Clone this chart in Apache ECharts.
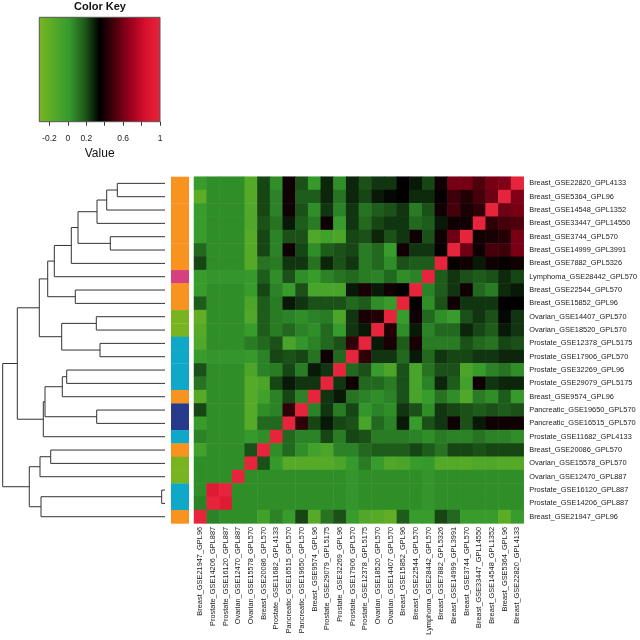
<!DOCTYPE html>
<html><head><meta charset="utf-8">
<script src="https://cdn.jsdelivr.net/npm/echarts@6/dist/echarts.min.js"></script>
<style>html,body{margin:0;padding:0;background:#fff}#c{width:640px;height:640px}</style>
</head><body><div id="c"></div>
<script>
// ---- data ----
const rowLabels = [
 'Breast_GSE22820_GPL4133','Breast_GSE5364_GPL96','Breast_GSE14548_GPL1352','Breast_GSE33447_GPL14550',
 'Breast_GSE3744_GPL570','Breast_GSE14999_GPL3991','Breast_GSE7882_GPL5326','Lymphoma_GSE28442_GPL570',
 'Breast_GSE22544_GPL570','Breast_GSE15852_GPL96','Ovarian_GSE14407_GPL570','Ovarian_GSE18520_GPL570',
 'Prostate_GSE12378_GPL5175','Prostate_GSE17906_GPL570','Prostate_GSE32269_GPL96','Prostate_GSE29079_GPL5175',
 'Breast_GSE9574_GPL96','Pancreatic_GSE19650_GPL570','Pancreatic_GSE16515_GPL570','Prostate_GSE11682_GPL4133',
 'Breast_GSE20086_GPL570','Ovarian_GSE15578_GPL570','Ovarian_GSE12470_GPL887','Prostate_GSE16120_GPL887',
 'Prostate_GSE14206_GPL887','Breast_GSE21947_GPL96'
];
const colLabels = rowLabels.slice().reverse();
const tissueColors = {Breast:'#f7931e', Lymphoma:'#d6407f', Ovarian:'#78b41f', Prostate:'#10a8c8', Pancreatic:'#283a8b'};

// Correlation values: row r, columns 0 .. 24-r (left of the red diagonal).
// The matrix is a symmetric correlation matrix, the right part mirrors these cells.
const corrTri = [
 [0.0,0.05,0.05,0.05,-0.14,0.22,0.05,0.38,0.2,0.02,0.28,0.05,0.28,0.2,0.25,0.25,0.35,0.3,0.22,0.38,0.6,0.6,0.52,0.6,0.62],
 [-0.18,0.05,0.05,0.05,-0.14,0.22,0.08,0.38,0.18,0.18,0.28,0.12,0.28,0.22,0.3,0.33,0.35,0.27,0.27,0.36,0.48,0.42,0.5,0.58],
 [0.0,0.05,0.05,0.05,-0.12,0.22,0.08,0.38,0.2,0.05,0.25,0.08,0.25,0.12,0.18,0.2,0.25,0.1,0.2,0.38,0.5,0.4,0.45],
 [0.0,0.05,0.05,0.05,-0.12,0.2,0.12,0.3,0.18,0.1,0.38,0.0,0.25,0.15,0.22,0.25,0.25,0.15,0.18,0.3,0.38,0.38],
 [0.0,0.05,0.05,0.05,-0.15,0.22,0.08,0.2,0.2,-0.12,-0.05,-0.1,0.22,0.2,0.28,0.2,0.25,0.38,0.2,0.38,0.58],
 [0.15,0.05,0.05,0.05,-0.14,0.22,0.08,0.38,0.22,0.05,0.18,0.2,0.22,0.1,0.15,0.0,0.38,0.25,0.25,0.36],
 [0.22,0.05,0.05,0.05,-0.14,0.12,0.1,0.25,0.25,0.12,0.28,0.2,0.25,0.1,0.15,0.05,0.2,0.18,0.18],
 [0.0,0.03,0.03,0.03,0.02,0.18,0.05,0.2,0.05,0.0,0.08,0.12,0.15,0.1,0.08,0.15,0.05,0.08],
 [0.0,0.05,0.05,0.05,0.0,0.22,0.08,0.0,0.2,-0.08,-0.08,-0.08,0.3,0.4,0.3,0.38,0.35],
 [0.18,0.05,0.05,0.05,-0.1,0.18,0.1,0.3,0.25,0.2,0.2,0.2,0.15,0.18,0.05,0.0],
 [-0.2,0.05,0.05,0.05,-0.12,0.18,0.1,0.08,0.05,0.08,0.1,-0.1,0.25,0.4,0.42],
 [-0.15,0.05,0.05,0.05,0.0,0.18,0.1,0.15,0.08,0.05,0.15,0.0,0.25,0.3],
 [-0.12,0.05,0.05,0.05,0.1,0.15,0.2,-0.08,0.03,0.08,0.15,0.2,0.45],
 [0.0,0.03,0.03,0.03,0.02,0.08,0.22,0.2,0.22,0.12,0.38,0.15],
 [0.2,0.05,0.05,0.05,-0.1,0.08,0.1,0.22,0.1,0.3,0.25],
 [0.12,0.05,0.05,0.05,-0.15,-0.1,0.22,0.3,0.25,0.25],
 [-0.15,0.05,0.05,0.05,-0.15,-0.05,0.08,0.22,0.08],
 [0.22,0.05,0.05,0.05,-0.15,0.05,0.08,0.45],
 [0.0,0.05,0.05,0.05,-0.15,0.15,0.15],
 [0.08,0.05,0.05,0.05,0.02,0.05],
 [-0.05,0.05,0.05,0.05,0.2],
 [0.05,0.05,0.05,0.05],
 [0.05,0.05,0.05],
 [0.05,0.92],
 [0.08],
 []
];

// Dendrogram (hclust style: negative = leaf row number, positive = earlier merge number)
const merges = [
 [-1,-2],[1,-3],[2,-4],[-5,-6],[3,4],[5,-7],[6,-8],[-9,-10],[7,8],
 [-11,-12],[-13,-14],[10,11],[9,12],[-15,-16],[14,-17],[-18,-19],[15,16],[17,-20],
 [13,18],[-21,-22],[20,-23],[-24,-25],[22,-26],[21,23],[19,24]
];
const mergeHeights = [
 0.477,0.583,0.68,0.547,0.87,0.937,1.107,0.897,1.173,
 0.687,0.65,1.033,1.257,0.983,1.027,0.683,1.2,1.217,
 1.477,1.143,1.25,0.033,1.24,1.357,1.623
];

const keyMin = -0.31, keyMax = 1.0;
const keyTicks = [-0.2,0,0.2,0.4,0.6,0.8,1];
const keyLabels = [-0.2,0,0.2,0.6,1];
const rampColors = ['#7ab61f','#55aa28','#359a2c','#1e5c1c','#000000','#4a000c','#9a001c','#d8102c','#e6253c'];

// ---- build ----
const N = rowLabels.length;
const FONT = '"Liberation Sans", Arial, Helvetica, sans-serif';
const matrix = [];
for (let r = 0; r < N; r++) {
  matrix.push([]);
  for (let c = 0; c < N; c++) {
    let v;
    if (c < N - 1 - r) v = corrTri[r][c];
    else if (c === N - 1 - r) v = 1;
    else v = corrTri[N - 1 - c][N - 1 - r];
    matrix[r].push(v);
  }
}
const heatData = [];
for (let r = 0; r < N; r++) for (let c = 0; c < N; c++) heatData.push([c, r, matrix[r][c]]);

const nodePos = [], nodeH = [], dendData = [];
function nodeInfo(id) { return id < 0 ? {p: -id - 1, h: 0} : {p: nodePos[id - 1], h: nodeH[id - 1]}; }
merges.forEach((m, i) => {
  const a = nodeInfo(m[0]), b = nodeInfo(m[1]);
  nodePos[i] = (a.p + b.p) / 2; nodeH[i] = mergeHeights[i];
  dendData.push([mergeHeights[i], a.p, b.p, a.h, b.h]);
});
const rootH = mergeHeights[mergeHeights.length - 1];

const sideData = rowLabels.map((l, r) => [r, l.split('_')[0]]);
const gradStops = rampColors.map((c, i) => ({offset: i / (rampColors.length - 1), color: c}));

const HM = {left: 194, top: 176.7, width: 331, height: 346.7};

const chart = echarts.init(document.getElementById('c'), null, {renderer: 'canvas', width: 640, height: 640});
chart.setOption({
  animation: false,
  backgroundColor: '#ffffff',
  textStyle: {fontFamily: FONT},
  title: {text: 'Color Key', left: 100, top: 1.5, padding: 0, textAlign: 'center',
          textStyle: {fontSize: 11, fontWeight: 'bold', color: '#111', fontFamily: FONT}},
  grid: [
    {left: HM.left, top: HM.top, width: HM.width, height: HM.height},
    {left: 2.7, top: HM.top, width: 162.3, height: HM.height},
    {left: 171, top: HM.top, width: 18, height: HM.height},
    {left: 39.3, top: 17.3, width: 120.7, height: 104.4}
  ],
  xAxis: [
    {gridIndex: 0, type: 'category', data: colLabels, position: 'bottom',
     axisLine: {show: false}, axisTick: {show: false}, splitLine: {show: false},
     axisLabel: {interval: 0, rotate: 90, fontSize: 7.4, margin: 3.5, color: '#1a1a1a', fontFamily: FONT}},
    {gridIndex: 1, type: 'value', min: 0, max: rootH, inverse: true, show: false},
    {gridIndex: 2, type: 'value', min: 0, max: 1, show: false},
    {gridIndex: 3, type: 'value', min: keyMin, max: keyMax, position: 'bottom',
     axisLine: {show: false}, splitLine: {show: false},
     axisTick: {show: true, customValues: keyTicks, length: 4, lineStyle: {color: '#333', width: 1}},
     axisLabel: {customValues: keyLabels, fontSize: 8.5, margin: 12.5, color: '#222', fontFamily: FONT,
                 formatter: v => String(Math.round(v * 10) / 10)},
     name: 'Value', nameLocation: 'middle', nameGap: 26,
     nameTextStyle: {fontSize: 12, color: '#111', fontFamily: FONT}}
  ],
  yAxis: [
    {gridIndex: 0, type: 'category', data: rowLabels, inverse: true, position: 'right',
     axisLine: {show: false}, axisTick: {show: false}, splitLine: {show: false},
     axisLabel: {interval: 0, fontSize: 7.4, margin: 5.5, color: '#1a1a1a', fontFamily: FONT}},
    {gridIndex: 1, type: 'value', min: -0.5, max: N - 0.5, inverse: true, show: false},
    {gridIndex: 2, type: 'value', min: -0.5, max: N - 0.5, inverse: true, show: false},
    {gridIndex: 3, type: 'value', min: 0, max: 1, show: false}
  ],
  visualMap: [
    {type: 'continuous', show: false, min: keyMin, max: keyMax, seriesIndex: 0, dimension: 2,
     inRange: {color: rampColors}}
  ],
  series: [
    {type: 'heatmap', xAxisIndex: 0, yAxisIndex: 0, data: heatData, emphasis: {disabled: true},
     itemStyle: {borderWidth: 0}},
    {type: 'custom', xAxisIndex: 1, yAxisIndex: 1, data: dendData, clip: false, silent: true,
     encode: {x: 0, y: 1},
     renderItem: (params, api) => {
       const H = api.value(0), pa = api.value(1), pb = api.value(2), ha = api.value(3), hb = api.value(4);
       const pts = [api.coord([ha, pa]), api.coord([H, pa]), api.coord([H, pb]), api.coord([hb, pb])];
       return {type: 'polyline', shape: {points: pts}, style: {stroke: '#333', lineWidth: 1, fill: null}};
     }},
    {type: 'custom', xAxisIndex: 2, yAxisIndex: 2, data: sideData, clip: false, silent: true,
     encode: {y: 0},
     renderItem: (params, api) => {
       const r = api.value(0);
       const p0 = api.coord([0, r - 0.5]), p1 = api.coord([1, r + 0.5]);
       return {type: 'rect', shape: {x: p0[0], y: p0[1], width: p1[0] - p0[0], height: p1[1] - p0[1] + 0.3},
               style: {fill: tissueColors[sideData[params.dataIndex][1]]}};
     }},
    {type: 'custom', xAxisIndex: 3, yAxisIndex: 3, data: [[keyMin, keyMax]], clip: false, silent: true,
     encode: {x: 0},
     renderItem: (params, api) => {
       const p0 = api.coord([api.value(0), 1]), p1 = api.coord([api.value(1), 0]);
       return {type: 'rect', shape: {x: p0[0], y: p0[1], width: p1[0] - p0[0], height: p1[1] - p0[1]},
               style: {fill: new echarts.graphic.LinearGradient(0, 0, 1, 0, gradStops), stroke: '#555', lineWidth: 1}};
     }}
  ]
});
</script>
</body></html>
